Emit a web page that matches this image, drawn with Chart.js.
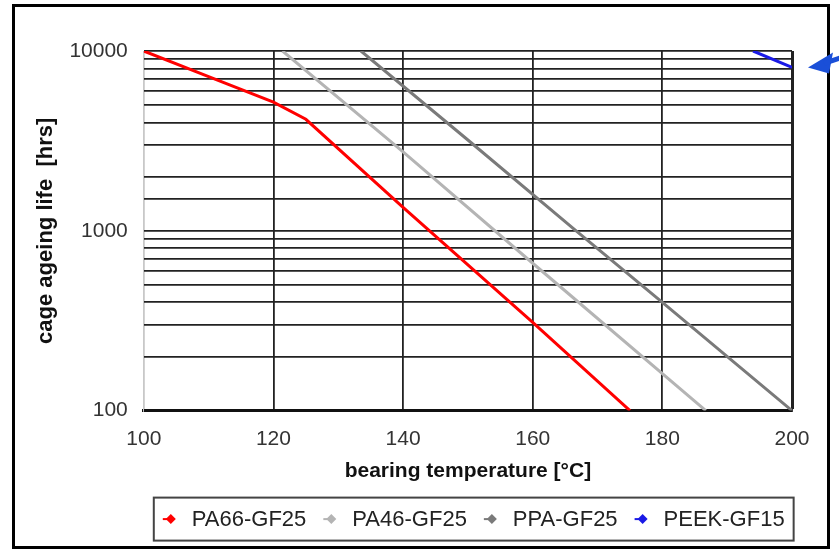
<!DOCTYPE html>
<html>
<head>
<meta charset="utf-8">
<script src="https://cdn.jsdelivr.net/npm/chart.js@4.4.1/dist/chart.umd.min.js"></script>
<style>
  body { margin: 0; background: #fff; }
  #wrap { width: 839px; height: 552px; position: relative; }
</style>
</head>
<body>
<div id="wrap"><canvas id="lifeChart"></canvas></div>
<script>
// bearing temperature [°C] / cage ageing life [hrs]
var pa66Temp = [100, 110, 120, 125, 140, 160, 175];
var pa66Life = [10000, 7200, 5200, 4170, 1350, 310, 100];

var pa46Temp = [121.4, 140, 160, 186.7];
var pa46Life = [10000, 2750, 660, 100];

var ppaTemp = [133.5, 150, 166.7, 180, 200];
var ppaLife = [10000, 3200, 1000, 400, 100];

var peekTemp = [194, 200];
var peekLife = [10000, 8100];

var seriesNames = ['PA66-GF25', 'PA46-GF25', 'PPA-GF25', 'PEEK-GF15'];
var seriesColors = ['#ff0000', '#b4b4b4', '#7a7a7a', '#1a1ae6'];

var xTicks = [100, 120, 140, 160, 180, 200];
var yLabels = [100, 1000, 10000];

var FONT = '"Liberation Sans", Arial, sans-serif';

function toPoints(xs, ys) {
    return xs.map(function (x, i) { return { x: x, y: ys[i] }; });
}

var allTemps = [pa66Temp, pa46Temp, ppaTemp, peekTemp];
var allLives = [pa66Life, pa46Life, ppaLife, peekLife];

var datasets = seriesNames.map(function (name, i) {
    return {
        label: name,
        data: toPoints(allTemps[i], allLives[i]),
        borderColor: seriesColors[i],
        backgroundColor: seriesColors[i],
        borderWidth: 3,
        pointRadius: 0,
        tension: 0
    };
});

// outer black frame round the whole picture
var framePlugin = {
    id: 'frame',
    afterDraw: function (chart) {
        var ctx = chart.ctx;
        ctx.save();
        ctx.strokeStyle = '#000';
        ctx.lineWidth = 3;
        ctx.strokeRect(13.5, 5.5, 815, 542);
        ctx.restore();
    }
};

// legend in a box, Excel style (short line + diamond)
var boxLegend = {
    id: 'boxLegend',
    afterDraw: function (chart) {
        var ctx = chart.ctx;
        var area = chart.chartArea;
        var left = area.left + 10;
        var top = area.bottom + 87;
        var h = 43;
        var mid = top + h / 2;
        ctx.save();
        ctx.font = '22px ' + FONT;
        ctx.textBaseline = 'middle';
        var x = left + 17;
        var items = [];
        chart.data.datasets.forEach(function (ds) {
            var w = ctx.measureText(ds.label).width;
            items.push({ mx: x, tx: x + 21, label: ds.label, color: ds.borderColor });
            x = x + 21 + w + 25;
        });
        var right = x - 25 + 9;
        ctx.strokeStyle = '#444';
        ctx.lineWidth = 2;
        ctx.strokeRect(left, top, right - left, h);
        items.forEach(function (it) {
            ctx.strokeStyle = it.color;
            ctx.fillStyle = it.color;
            ctx.lineWidth = 2;
            ctx.beginPath();
            ctx.moveTo(it.mx - 8, mid);
            ctx.lineTo(it.mx + 2, mid);
            ctx.stroke();
            ctx.beginPath();
            ctx.moveTo(it.mx, mid - 5);
            ctx.lineTo(it.mx + 5, mid);
            ctx.lineTo(it.mx, mid + 5);
            ctx.lineTo(it.mx - 5, mid);
            ctx.closePath();
            ctx.fill();
            ctx.fillStyle = '#222';
            ctx.fillText(it.label, it.tx, mid + 1);
        });
        ctx.restore();
    }
};

// blue arrow pointing at the end of the PEEK curve
var arrowPlugin = {
    id: 'arrow',
    afterDraw: function (chart) {
        var ctx = chart.ctx;
        var tx = chart.chartArea.right + 16;
        var ty = chart.scales.y.getPixelForValue(peekLife[peekLife.length - 1]);
        ctx.save();
        ctx.fillStyle = '#1a4fd8';
        ctx.strokeStyle = '#1a4fd8';
        ctx.beginPath();
        ctx.moveTo(tx, ty);
        ctx.lineTo(tx + 25, ty - 15);
        ctx.lineTo(tx + 21, ty + 6);
        ctx.closePath();
        ctx.fill();
        ctx.lineWidth = 5;
        ctx.beginPath();
        ctx.moveTo(tx + 16, ty - 4);
        ctx.lineTo(tx + 40, ty - 12);
        ctx.stroke();
        ctx.restore();
    }
};

var ctx = document.getElementById('lifeChart').getContext('2d');
var lifeChart = new Chart(ctx, {
    type: 'line',
    data: { datasets: datasets },
    options: {
        responsive: true,
        maintainAspectRatio: false,
        animation: false,
        layout: { padding: { left: 17, right: 47, top: 51, bottom: 64 } },
        plugins: {
            legend: { display: false },
            tooltip: { enabled: false }
        },
        scales: {
            x: {
                type: 'linear',
                min: 100,
                max: 200,
                afterBuildTicks: function (axis) {
                    axis.ticks = xTicks.map(function (v) { return { value: v }; });
                },
                ticks: {
                    color: '#333',
                    padding: 16,
                    font: { family: FONT, size: 21 }
                },
                grid: {
                    drawTicks: false,
                    color: function (c) {
                        if (c.tick && c.tick.value === 100) return '#c8c8c8';
                        return '#222';
                    },
                    lineWidth: function (c) {
                        if (c.tick && c.tick.value === 200) return 3;
                        return 1.8;
                    }
                },
                border: { color: '#111', width: 3 },
                title: {
                    display: true,
                    text: 'bearing temperature [°C]',
                    color: '#111',
                    font: { family: FONT, size: 21, weight: 'bold' },
                    padding: { top: -9, bottom: 4 }
                }
            },
            y: {
                type: 'logarithmic',
                min: 100,
                max: 10000,
                ticks: {
                    color: '#333',
                    padding: 16,
                    font: { family: FONT, size: 21 },
                    autoSkip: false,
                    callback: function (v) {
                        return yLabels.indexOf(v) >= 0 ? String(v) : '';
                    }
                },
                grid: {
                    drawTicks: false,
                    color: '#222',
                    lineWidth: 1.8
                },
                border: { color: '#c8c8c8', width: 1 },
                title: {
                    display: true,
                    text: 'cage ageing life  [hrs]',
                    color: '#111',
                    font: { family: FONT, size: 22, weight: 'bold' },
                    padding: { top: 16, bottom: -6 }
                }
            }
        }
    },
    plugins: [framePlugin, boxLegend, arrowPlugin]
});
</script>
</body>
</html>
